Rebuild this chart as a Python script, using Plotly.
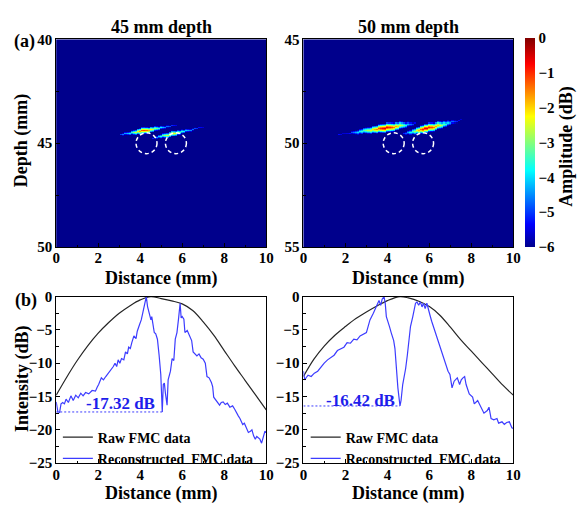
import numpy as np
import plotly.graph_objects as go

# ---------------- data ----------------
panel_titles = ["45 mm depth", "50 mm depth"]
depth_ranges = [[40, 50], [45, 55]]
hole_x = [4.3, 5.7]
hole_depth = [45, 50]
hole_radius = 0.5

# streaks in the 45 mm image (centre-line x, depth, amplitude dB)
s45a_x = [3.1, 3.2, 3.3, 3.4, 3.5, 3.6, 3.7, 3.8, 3.9, 4.0, 4.1, 4.2, 4.3, 4.4, 4.5, 4.6, 4.7, 4.8, 4.9, 5.0,
          5.1, 5.2, 5.3, 5.4, 5.5, 5.6, 5.7]
s45a_d = [44.58, 44.56, 44.54, 44.53, 44.51, 44.49, 44.47, 44.46, 44.44, 44.42, 44.40, 44.39, 44.37, 44.35,
          44.33, 44.31, 44.30, 44.28, 44.26, 44.24, 44.23, 44.21, 44.19, 44.17, 44.15, 44.14, 44.12]
s45a_amp = [-5.0, -4.6, -4.4, -4.2, -3.9, -3.5, -3.0, -2.6, -2.2, -1.7, -1.3, -1.2, -1.4, -1.8, -2.2, -2.5,
            -2.9, -3.2, -3.6, -3.9, -4.2, -4.5, -4.7, -4.9, -5.1, -5.3, -5.5]
s45b_x = [4.6, 4.7, 4.8, 4.9, 5.0, 5.1, 5.2, 5.3, 5.4, 5.5, 5.6, 5.7, 5.8, 5.9, 6.0, 6.1, 6.2, 6.3, 6.4, 6.5,
          6.6, 6.7, 6.8, 6.9, 7.0]
s45b_d = [44.76, 44.74, 44.71, 44.69, 44.67, 44.64, 44.62, 44.60, 44.58, 44.55, 44.53, 44.51, 44.48, 44.46,
          44.44, 44.41, 44.39, 44.37, 44.35, 44.32, 44.30, 44.28, 44.25, 44.23, 44.21]
s45b_amp = [-5.2, -4.8, -4.4, -4.0, -3.6, -3.2, -2.9, -2.6, -2.3, -2.1, -2.2, -2.5, -2.9, -3.2, -3.5, -3.8,
            -4.1, -4.3, -4.5, -4.7, -4.9, -5.1, -5.3, -5.4, -5.6]

# streaks in the 50 mm image
s50a_x = [1.7, 1.8, 1.9, 2.0, 2.1, 2.2, 2.3, 2.4, 2.5, 2.6, 2.7, 2.8, 2.9, 3.0, 3.1, 3.2, 3.3, 3.4, 3.5, 3.6,
          3.7, 3.8, 3.9, 4.0, 4.1, 4.2, 4.3, 4.4, 4.5, 4.6, 4.7, 4.8, 4.9, 5.0, 5.1, 5.2, 5.3]
s50a_d = [49.58, 49.57, 49.55, 49.54, 49.52, 49.51, 49.49, 49.48, 49.46, 49.45, 49.43, 49.42, 49.40, 49.39,
          49.37, 49.36, 49.34, 49.33, 49.32, 49.30, 49.29, 49.27, 49.26, 49.24, 49.23, 49.21, 49.20, 49.18,
          49.17, 49.15, 49.14, 49.12, 49.11, 49.09, 49.08, 49.06, 49.05]
s50a_amp = [-5.3, -5.5, -5.6, -5.6, -5.5, -5.3, -4.9, -4.6, -4.3, -4.0, -3.8, -3.5, -3.3, -3.0, -2.7, -2.4,
            -2.1, -1.8, -1.5, -1.2, -0.9, -0.7, -0.6, -0.7, -0.9, -1.1, -1.4, -1.7, -2.0, -2.4, -2.8, -3.2,
            -3.7, -4.2, -4.6, -5.0, -5.4]
s50b_x = [4.8, 4.9, 5.0, 5.1, 5.2, 5.3, 5.4, 5.5, 5.6, 5.7, 5.8, 5.9, 6.0, 6.1, 6.2, 6.3, 6.4, 6.5, 6.6, 6.7,
          6.8, 6.9, 7.0, 7.1, 7.2, 7.3, 7.4, 7.5]
s50b_d = [49.52, 49.50, 49.47, 49.45, 49.43, 49.41, 49.38, 49.36, 49.34, 49.31, 49.29, 49.27, 49.24, 49.22,
          49.20, 49.18, 49.15, 49.13, 49.11, 49.08, 49.06, 49.04, 49.01, 48.99, 48.97, 48.95, 48.92, 48.90]
s50b_amp = [-5.2, -4.8, -4.3, -3.8, -3.3, -2.8, -2.3, -1.8, -1.3, -0.9, -0.7, -0.7, -0.9, -1.1, -1.4, -1.7,
            -2.0, -2.4, -2.8, -3.2, -3.6, -4.0, -4.4, -4.7, -5.0, -5.2, -5.4, -5.6]

# raw FMC intensity profiles
raw45_x = [0, 0.5, 1.0, 1.5, 2.0, 2.5, 3.0, 3.5, 4.0, 4.5, 5.0, 5.5, 6.0, 6.5, 7.0, 7.5, 8.0, 8.5, 9.0, 9.5, 10]
raw45_db = [-14.8, -12.1, -9.6, -7.4, -5.5, -3.9, -2.5, -1.4, -0.5, 0.0, -0.3, -0.65, -1.1, -2.1, -3.8,
            -5.8, -8.1, -10.4, -12.6, -14.8, -17.0]
raw50_x = [0, 0.5, 1.0, 1.5, 2.0, 2.5, 3.0, 3.5, 4.0, 4.6, 5.0, 5.5, 6.0, 6.5, 7.0, 7.5, 8.0, 8.5, 9.0, 9.5, 10]
raw50_db = [-12.0, -9.4, -7.4, -5.8, -4.5, -3.3, -2.3, -1.4, -0.6, 0.0, -0.2, -0.7, -1.5, -2.8, -4.6, -6.5,
            -8.2, -9.9, -11.6, -13.3, -14.8]

# reconstructed FMC intensity profiles
rec45_x = [0, 0.08, 0.16, 0.23, 0.31, 0.39, 0.47, 0.58, 0.70, 0.81, 0.93, 1.05, 1.17, 1.28, 1.40, 1.55, 1.71,
           1.87, 1.95, 2.02, 2.15, 2.25, 2.36, 2.49, 2.60, 2.72, 2.80, 2.88, 2.95, 3.03, 3.11, 3.22, 3.30,
           3.39, 3.45, 3.53, 3.60, 3.70, 3.80, 3.86, 3.97, 4.05, 4.12, 4.20, 4.29, 4.35, 4.43, 4.51, 4.55,
           4.60, 4.67, 4.74, 4.82, 4.90, 4.98, 5.02, 5.05, 5.10, 5.15, 5.20, 5.28, 5.33, 5.40, 5.44, 5.52,
           5.60, 5.67, 5.75, 5.83, 5.90, 5.95, 6.00, 6.08, 6.13, 6.24, 6.35, 6.45, 6.52, 6.62, 6.70, 6.80,
           6.90, 7.00, 7.10, 7.18, 7.28, 7.39, 7.45, 7.50, 7.62, 7.70, 7.78, 7.86, 7.95, 8.05, 8.15, 8.27,
           8.40, 8.50, 8.58, 8.67, 8.75, 8.82, 8.88, 8.96, 9.05, 9.15, 9.25, 9.32, 9.40, 9.48, 9.55, 9.62,
           9.70, 9.78, 9.85, 9.94, 10.0]
rec45_db = [-15.8, -17.3, -17.4, -16.1, -15.9, -16.1, -15.4, -15.9, -14.9, -15.6, -14.8, -15.2, -14.5, -14.9,
            -14.4, -14.6, -14.1, -14.2, -13.6, -13.2, -12.2, -12.5, -12.0, -11.5, -11.0, -10.5, -10.0, -10.5,
            -9.5, -10.0, -9.3, -9.5, -8.3, -8.6, -7.6, -7.8, -6.9, -5.9, -6.3, -5.2, -4.2, -3.5, -2.5, -1.5,
            0.0, -1.5, -2.7, -3.5, -3.0, -4.0, -5.4, -5.6, -6.4, -8.8, -11.7, -14.8, -17.32, -13.2, -13.0,
            -14.5, -16.3, -12.5, -11.5, -11.2, -9.3, -9.6, -6.4, -5.4, -3.2, -1.0, -3.2, -3.0, -3.4, -5.4,
            -5.1, -5.9, -6.6, -8.3, -8.6, -8.9, -8.6, -9.2, -9.4, -10.0, -12.0, -12.2, -12.9, -13.5, -15.1,
            -15.6, -15.8, -16.3, -15.9, -15.8, -16.2, -16.0, -16.6, -16.4, -16.9, -17.5, -17.9, -18.3, -18.7,
            -19.2, -19.0, -19.6, -20.4, -20.2, -20.0, -20.9, -21.4, -21.0, -21.2, -21.4, -22.0, -21.2, -20.2,
            -20.4]
rec50_x = [0, 0.06, 0.17, 0.22, 0.37, 0.52, 0.68, 0.84, 0.99, 1.15, 1.30, 1.46, 1.62, 1.77, 1.93, 2.08, 2.24,
           2.40, 2.55, 2.70, 2.86, 3.00, 3.08, 3.17, 3.33, 3.44, 3.53, 3.60, 3.68, 3.75, 3.84, 3.90, 3.95,
           4.03, 4.10, 4.18, 4.30, 4.36, 4.43, 4.50, 4.60, 4.65, 4.73, 4.80, 4.87, 4.95, 5.03, 5.10, 5.21,
           5.34, 5.41, 5.49, 5.57, 5.65, 5.72, 5.80, 5.88, 5.96, 6.03, 6.11, 6.27, 6.42, 6.58, 6.74, 6.89,
           6.98, 7.08, 7.18, 7.25, 7.33, 7.44, 7.52, 7.60, 7.68, 7.75, 7.90, 8.06, 8.14, 8.30, 8.45, 8.60,
           8.76, 8.84, 8.94, 9.07, 9.22, 9.30, 9.46, 9.57, 9.68, 9.81, 9.93, 10.0]
rec50_db = [-11.2, -12.5, -12.0, -11.8, -12.0, -11.5, -11.2, -10.5, -10.0, -9.5, -9.2, -8.8, -8.1, -7.8, -7.6,
            -6.9, -7.0, -6.4, -6.5, -5.9, -5.6, -5.4, -4.5, -3.5, -2.5, -1.8, -1.1, -0.6, -1.3, -0.4, 0.0,
            -1.1, -3.0, -3.7, -4.5, -5.4, -6.6, -7.8, -10.8, -13.7, -16.42, -15.6, -13.2, -12.2, -10.8, -8.8,
            -6.4, -4.5, -3.0, -1.0, -0.8, -1.3, -0.8, -1.55, -1.0, -1.8, -1.0, -1.8, -2.8, -3.7, -5.2, -6.9,
            -8.3, -9.8, -11.2, -11.7, -13.7, -12.7, -12.5, -12.2, -13.2, -12.5, -12.2, -12.0, -13.2, -14.6,
            -15.1, -16.1, -15.6, -16.6, -17.5, -17.1, -16.6, -18.3, -18.5, -18.3, -19.0, -18.8, -19.2, -18.9,
            -18.8, -19.7, -19.8]

min_db = [-17.32, -16.42]
min_x = [5.05, 4.60]
min_label_x = [3.05, 2.72]
min_label_y = [-16.0, -15.6]

amp_ticks = [0, -1, -2, -3, -4, -5, -6]

# ---------------- helpers ----------------
W, H = 585, 506
FONT = "Liberation Serif"


def fx(p):
    return p / W


def fy(p):
    return 1 - p / H


DX, DY = 0.1, 0.05
NX, NY = 101, 200
x_cent = np.arange(NX) * DX


def build_image(d0, streaks, drops):
    z = np.full((NY, NX), -6.0)
    for xs, ds, amps in streaks:
        for x, d, a in zip(xs, ds, amps):
            ix = int(round(x / DX))
            iy = int(round((d - d0) / DY - 0.5))
            for k, dr in enumerate(drops):
                for s in ((0,) if k == 0 else (-k, k)):
                    r = iy + s
                    if 0 <= r < NY and 0 <= ix < NX:
                        z[r, ix] = max(z[r, ix], max(a - dr, -6.0))
    return z


jet = [[0.0, "rgb(0,0,140)"], [0.11, "rgb(0,0,255)"], [0.365, "rgb(0,255,255)"],
       [0.625, "rgb(255,255,0)"], [0.875, "rgb(255,0,0)"], [1.0, "rgb(128,0,0)"]]

fig = go.Figure()

imgs = [
    build_image(depth_ranges[0][0], [(s45a_x, s45a_d, s45a_amp), (s45b_x, s45b_d, s45b_amp)],
                [0, 1.0, 2.2, 3.8]),
    build_image(depth_ranges[1][0], [(s50a_x, s50a_d, s50a_amp), (s50b_x, s50b_d, s50b_amp)],
                [0, 0.7, 1.6, 2.8, 4.2]),
]

for i in range(2):
    d0 = depth_ranges[i][0]
    y_cent = d0 + np.arange(NY) * DY + DY / 2
    fig.add_trace(go.Heatmap(
        x=x_cent, y=y_cent, z=imgs[i], colorscale=jet, zmin=-6, zmax=0,
        xaxis="x" if i == 0 else "x2", yaxis="y" if i == 0 else "y2",
        showscale=(i == 1),
        colorbar=dict(
            x=fx(531.7), xanchor="left", thickness=10, thicknessmode="pixels",
            len=(246.7 - 31) / H, lenmode="fraction", y=fy((31 + 246.7) / 2), yanchor="middle",
            outlinewidth=0, xpad=0, ypad=0, tickvals=amp_ticks, ticks="",
            tickfont=dict(family=FONT, size=15, weight="bold", color="black"),
        ),
    ))

line_black = dict(color="#262626", width=1.2)
line_blue = dict(color="rgb(60,60,255)", width=1.2)

fig.add_trace(go.Scatter(x=raw45_x, y=raw45_db, mode="lines", line=dict(**line_black, shape="spline"),
                         name="Raw FMC data", xaxis="x3", yaxis="y3", legend="legend"))
fig.add_trace(go.Scatter(x=rec45_x, y=rec45_db, mode="lines", line=line_blue,
                         name="Reconstructed  FMC data", xaxis="x3", yaxis="y3", legend="legend"))
fig.add_trace(go.Scatter(x=raw50_x, y=raw50_db, mode="lines", line=dict(**line_black, shape="spline"),
                         name="Raw FMC data", xaxis="x4", yaxis="y4", legend="legend2"))
fig.add_trace(go.Scatter(x=rec50_x, y=rec50_db, mode="lines", line=line_blue,
                         name="Reconstructed  FMC data", xaxis="x4", yaxis="y4", legend="legend2"))
for i, (xa, ya) in enumerate([("x3", "y3"), ("x4", "y4")]):
    fig.add_trace(go.Scatter(x=[0, min_x[i]], y=[min_db[i], min_db[i]], mode="lines",
                             line=dict(color="rgb(60,60,255)", width=1, dash="2px,2px"),
                             showlegend=False, xaxis=xa, yaxis=ya))

# hole circles
shapes = []
for i, (xr, yr) in enumerate([("x", "y"), ("x2", "y2")]):
    for hx in hole_x:
        shapes.append(dict(type="circle", xref=xr, yref=yr,
                           x0=hx - hole_radius, x1=hx + hole_radius,
                           y0=hole_depth[i] - hole_radius, y1=hole_depth[i] + hole_radius,
                           line=dict(color="white", width=1.5, dash="4px,3px")))

tickfont = dict(family=FONT, size=15, weight="bold", color="black")


def axis(domain, rng, dtick, minor_dtick, anchor, standoff=0):
    return dict(domain=domain, range=rng, dtick=dtick, tick0=0, showgrid=False, zeroline=False,
                showline=True, linecolor="black", linewidth=1, mirror=True,
                ticks="inside", ticklen=4, tickcolor="black", tickfont=tickfont,
                ticklabelstandoff=standoff,
                minor=dict(ticks="inside", ticklen=2.5, dtick=minor_dtick, tickcolor="black", showgrid=False),
                anchor=anchor)


xd_l = [fx(53.3), fx(267.7)]
xd_r = [fx(305.7), fx(520)]
yd_t = [fy(247), fy(32.3)]
yd_b = [fy(470), fy(298)]

layout = dict(
    width=W, height=H, margin=dict(l=0, r=0, t=0, b=0),
    paper_bgcolor="white", plot_bgcolor="white",
    xaxis=axis(xd_l, [0, 10], 2, 1, "y", -3),
    yaxis=axis(yd_t, [depth_ranges[0][1], depth_ranges[0][0]], 5, 2.5, "x"),
    xaxis2=axis(xd_r, [0, 10], 2, 1, "y2", -3),
    yaxis2=axis(yd_t, [depth_ranges[1][1], depth_ranges[1][0]], 5, 2.5, "x2"),
    xaxis3=axis(xd_l, [0, 10], 2, 1, "y3", -2),
    yaxis3=axis(yd_b, [-25, 0], 5, 2.5, "x3"),
    xaxis4=axis(xd_r, [0, 10], 2, 1, "y4", -2),
    yaxis4=axis(yd_b, [-25, 0], 5, 2.5, "x4"),
    shapes=shapes,
    showlegend=True,
)
legfont = dict(family=FONT, size=14, weight="bold", color="black")
layout["legend"] = dict(x=fx(55), y=fy(427), xanchor="left", yanchor="top", bgcolor="rgba(0,0,0,0)",
                        font=legfont, tracegroupgap=0, itemwidth=30)
layout["legend2"] = dict(x=fx(308), y=fy(427), xanchor="left", yanchor="top", bgcolor="rgba(0,0,0,0)",
                         font=legfont, tracegroupgap=0, itemwidth=30)
fig.update_layout(**layout)

ann = []


def add_text(text, x, y, size=18, color="black", rot=0, xref="paper", yref="paper"):
    ann.append(dict(text=text, x=x, y=y, xref=xref, yref=yref, showarrow=False, textangle=rot,
                    xanchor="center", yanchor="middle",
                    font=dict(family=FONT, size=size, weight="bold", color=color)))


add_text(panel_titles[0], fx(160.5), fy(20))
add_text(panel_titles[1], fx(412.9), fy(20))
add_text("(a)", fx(21), fy(35))
add_text("(b)", fx(22), fy(302))
add_text("Depth (mm)", fx(18), fy(137), rot=-90)
add_text("Intensity (dB)", fx(19.5), fy(383), rot=-90)
add_text("Amplitude (dB)", fx(574), fy(143), rot=-90)
for cx in (160.5, 412.9):
    add_text("Distance (mm)", fx(cx), fy(279))
    add_text("Distance (mm)", fx(cx), fy(501))
add_text(f"{min_db[0]:.2f} dB", min_label_x[0], min_label_y[0], size=17, color="rgb(30,30,235)",
         xref="x3", yref="y3")
add_text(f"{min_db[1]:.2f} dB", min_label_x[1], min_label_y[1], size=17, color="rgb(30,30,235)",
         xref="x4", yref="y4")
fig.update_layout(annotations=ann)

fig.write_html("out.html")
